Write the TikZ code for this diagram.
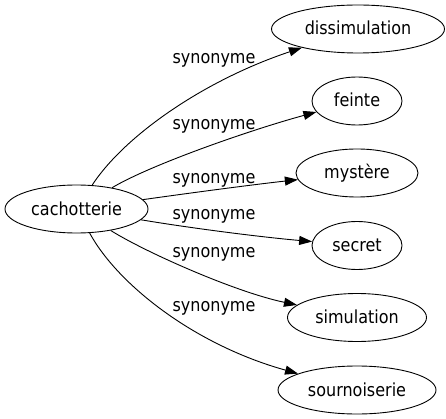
\documentclass[tikz,border=0pt]{standalone}
\usepackage{fontspec}
\setmainfont[FakeStretch=0.89]{DejaVu Sans}
\usetikzlibrary{shapes.geometric,arrows.meta}
\tikzset{
  word/.style={draw, ellipse, inner sep=0pt, line width=0.9pt,
    minimum height=48pt, text height=12pt, text depth=0pt,
    font=\fontsize{18}{20}\selectfont},
  rel/.style={anchor=base, inner sep=0pt, font=\fontsize{18}{20}\selectfont},
  link/.style={line width=0.9pt, -{Triangle[length=13pt,width=9pt]}}
}
\begin{document}
\begin{tikzpicture}[x=1pt,y=-1pt]
\useasboundingbox (0,0) rectangle (446,419);
\node[word, minimum width=143pt] (c) at (76.5,209) {cachotterie};
\node[word, minimum width=173pt] (d) at (358,29) {dissimulation};
\node[word, minimum width=90pt] (f) at (357,101) {feinte};
\node[word, minimum width=122pt] (m) at (357,173) {mystère};
\node[word, minimum width=90pt] (s) at (357,245.5) {secret};
\node[word, minimum width=139pt] (si) at (357,317.5) {simulation};
\node[word, minimum width=158pt] (so) at (357,390) {sournoiserie};

\node[rel] (l1) at (214,63.3) {synonyme};
\node[rel] (l2) at (214,130) {synonyme};
\node[rel] (l3) at (214,184) {synonyme};
\node[rel] (l4) at (214,220) {synonyme};
\node[rel] (l5) at (214,257.3) {synonyme};
\node[rel] (l6) at (214,311.7) {synonyme};

\draw[link] (c) .. controls (125,135) and (205,80) .. (d);
\draw[link] (c) .. controls (150,165) and (250,130) .. (f);
\draw[link] (c) .. controls (190,193) and (250,185) .. (m);
\draw[link] (c) .. controls (190,228) and (260,237) .. (s);
\draw[link] (c) .. controls (145,252) and (235,292) .. (si);
\draw[link] (c) .. controls (118,285) and (195,345) .. (so);
\end{tikzpicture}
\end{document}
